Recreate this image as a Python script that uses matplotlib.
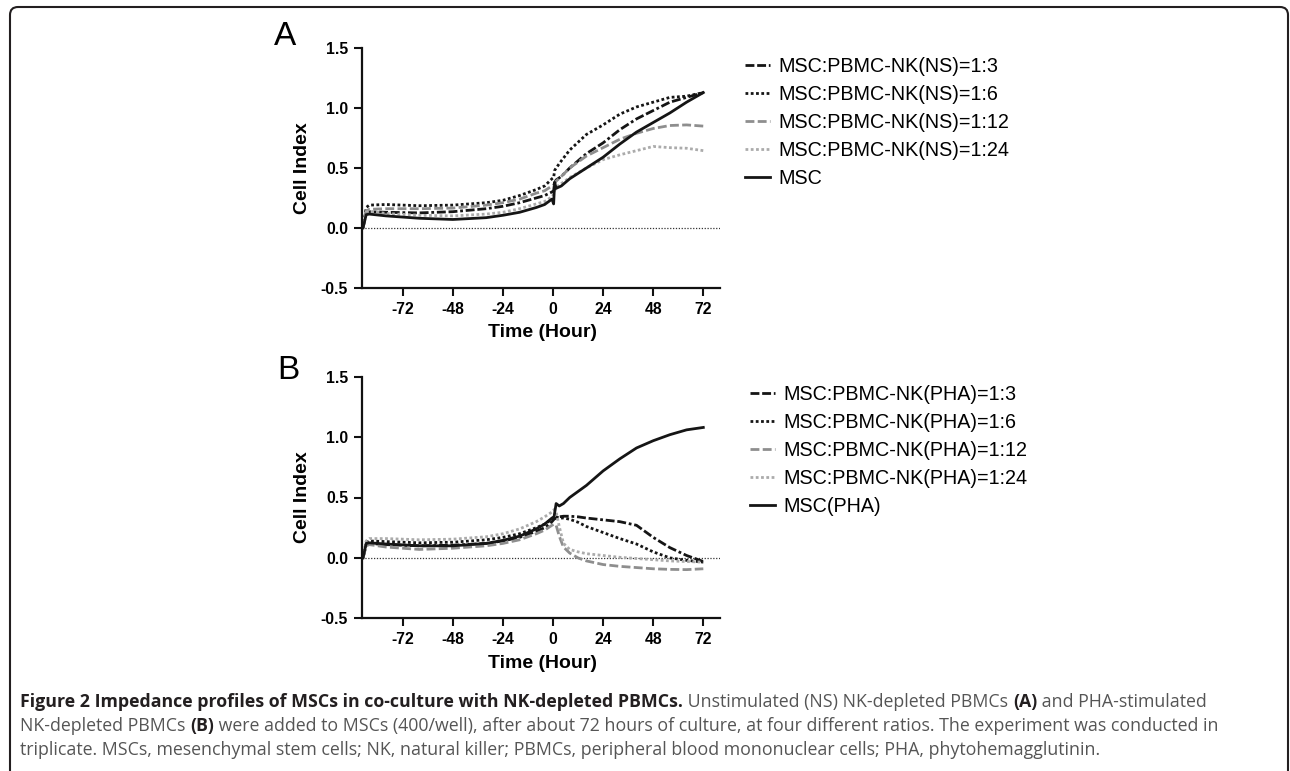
import matplotlib

matplotlib.use("Agg")
import matplotlib.pyplot as plt
from matplotlib.patches import FancyBboxPatch

plt.rcParams["font.family"] = ["Liberation Sans", "DejaVu Sans"]

# --- panel A: unstimulated (NS) co-cultures ---
time_a = [-91, -89.5, -88, -80, -64, -48, -32, -24, -16, -8, -4, -0.5,
          0.3, 0.8, 1.5, 4, 8, 16, 24, 32, 40, 48, 56, 64, 72]
ns_1_3 = [0.0, 0.13, 0.135, 0.13, 0.125, 0.135, 0.16, 0.18, 0.21, 0.25, 0.27, 0.30,
          0.31, 0.38, 0.40, 0.43, 0.50, 0.62, 0.71, 0.82, 0.91, 0.98, 1.05, 1.09, 1.13]
ns_1_6 = [0.0, 0.17, 0.19, 0.195, 0.185, 0.19, 0.21, 0.23, 0.27, 0.32, 0.35, 0.41,
          0.42, 0.48, 0.50, 0.56, 0.65, 0.78, 0.86, 0.95, 1.01, 1.05, 1.09, 1.10, 1.13]
ns_1_12 = [0.0, 0.14, 0.155, 0.16, 0.16, 0.165, 0.19, 0.21, 0.24, 0.29, 0.31, 0.35,
           0.36, 0.37, 0.39, 0.43, 0.50, 0.60, 0.67, 0.74, 0.79, 0.83, 0.855, 0.86, 0.85]
ns_1_24 = [0.0, 0.13, 0.14, 0.12, 0.105, 0.10, 0.115, 0.13, 0.16, 0.20, 0.22, 0.26,
           0.28, 0.31, 0.34, 0.37, 0.42, 0.50, 0.57, 0.61, 0.645, 0.68, 0.67, 0.665, 0.645]
msc_a = [0.0, 0.11, 0.115, 0.10, 0.08, 0.07, 0.085, 0.105, 0.13, 0.17, 0.195, 0.24,
         0.20, 0.38, 0.33, 0.35, 0.41, 0.50, 0.59, 0.70, 0.80, 0.88, 0.96, 1.05, 1.13]

# --- panel B: PHA-stimulated co-cultures ---
time_b = [-91, -89.5, -88, -80, -64, -48, -32, -24, -16, -8, -4, -0.5,
          0.5, 1.5, 3, 5, 8, 12, 16, 24, 32, 40, 48, 56, 64, 72]
pha_1_3 = [0.0, 0.11, 0.12, 0.11, 0.10, 0.105, 0.12, 0.14, 0.17, 0.22, 0.25, 0.30,
           0.32, 0.33, 0.34, 0.345, 0.345, 0.34, 0.33, 0.315, 0.30, 0.27, 0.17, 0.085, 0.02, -0.03]
pha_1_6 = [0.0, 0.13, 0.14, 0.135, 0.125, 0.13, 0.15, 0.17, 0.20, 0.25, 0.28, 0.32,
           0.34, 0.34, 0.33, 0.33, 0.32, 0.295, 0.26, 0.21, 0.16, 0.115, 0.05, 0.0, -0.02, -0.035]
pha_1_12 = [0.0, 0.10, 0.11, 0.09, 0.07, 0.08, 0.10, 0.12, 0.15, 0.20, 0.23, 0.27,
            0.28, 0.27, 0.18, 0.09, 0.04, 0.0, -0.025, -0.055, -0.07, -0.08, -0.09, -0.095, -0.097, -0.09]
pha_1_24 = [0.0, 0.14, 0.16, 0.16, 0.15, 0.155, 0.175, 0.20, 0.24, 0.30, 0.34, 0.38,
            0.40, 0.38, 0.26, 0.12, 0.07, 0.05, 0.035, 0.02, 0.005, -0.005, -0.015, -0.025, -0.03, -0.035]
msc_b = [0.0, 0.12, 0.125, 0.115, 0.10, 0.10, 0.12, 0.145, 0.18, 0.24, 0.28, 0.33,
         0.34, 0.45, 0.43, 0.45, 0.50, 0.55, 0.60, 0.72, 0.82, 0.91, 0.97, 1.02, 1.06, 1.08]

labels_a = ["MSC:PBMC-NK(NS)=1:3", "MSC:PBMC-NK(NS)=1:6", "MSC:PBMC-NK(NS)=1:12",
            "MSC:PBMC-NK(NS)=1:24", "MSC"]
labels_b = ["MSC:PBMC-NK(PHA)=1:3", "MSC:PBMC-NK(PHA)=1:6", "MSC:PBMC-NK(PHA)=1:12",
            "MSC:PBMC-NK(PHA)=1:24", "MSC(PHA)"]
x_ticks = [-72, -48, -24, 0, 24, 48, 72]
y_ticks = [-0.5, 0.0, 0.5, 1.0, 1.5]

# colour / dash pattern per series (same order as labels)
styles = [
    dict(color="#151515", dashes=(3.2, 1.0, 3.2, 1.0, 1.0, 1.0)),
    dict(color="#151515", dashes=(1.0, 0.9)),
    dict(color="#8e8e8e", dashes=(3.2, 1.2)),
    dict(color="#ababab", dashes=(1.0, 0.9)),
    dict(color="#151515", ls="-"),
]


def draw_panel(ax, t, series, labels, legend_xy):
    for y, lab, st in zip(series, labels, styles):
        ax.plot(t, y, lw=2.0, label=lab, solid_joinstyle="round", **st)
    ax.axhline(0, color="#333333", lw=0.9, ls=(0, (1, 1.3)), zorder=0)
    ax.set_xlim(-91.5, 80)
    ax.set_ylim(-0.5, 1.5)
    ax.set_xticks(x_ticks)
    ax.set_xticklabels([str(v) for v in x_ticks])
    ax.set_yticks(y_ticks)
    ax.set_yticklabels([f"{v:.1f}" for v in y_ticks])
    for side in ("top", "right"):
        ax.spines[side].set_visible(False)
    for side in ("left", "bottom"):
        ax.spines[side].set_linewidth(1.6)
        ax.spines[side].set_color("#111111")
    ax.tick_params(length=6, width=1.5, color="#111111", pad=4)
    for lbl in ax.get_xticklabels() + ax.get_yticklabels():
        lbl.set_fontsize(11.3)
        lbl.set_fontweight("bold")
    ax.set_ylabel("Cell Index", fontsize=14, fontweight="bold")
    ax.yaxis.set_label_coords(-0.143, 0.5)
    ax.set_xlabel("Time (Hour)", fontsize=14, fontweight="bold")
    ax.xaxis.set_label_coords(0.505, -0.153)
    ax.legend(loc="upper left", bbox_to_anchor=legend_xy, bbox_transform=ax.figure.transFigure,
              frameon=False, fontsize=14.2, handlelength=1.27, handletextpad=0.42,
              labelspacing=0.45, borderpad=0, borderaxespad=0)


fig = plt.figure(figsize=(12.9, 7.71), dpi=100)
ax_a = fig.add_axes([362 / 1290, 1 - 287.7 / 771, 358 / 1290, 239.4 / 771])
ax_b = fig.add_axes([362 / 1290, 1 - 618.3 / 771, 358 / 1290, 241.6 / 771])

draw_panel(ax_a, time_a, [ns_1_3, ns_1_6, ns_1_12, ns_1_24, msc_a], labels_a,
           (745 / 1290, 1 - 57 / 771))
draw_panel(ax_b, time_b, [pha_1_3, pha_1_6, pha_1_12, pha_1_24, msc_b], labels_b,
           (750 / 1290, 1 - 385 / 771))

fig.text(285.5 / 1290, 1 - 36.5 / 771, "A", fontsize=24, ha="center", va="center")
fig.text(288 / 1290, 1 - 370 / 771, "B", fontsize=24, ha="center", va="center")

# outer rounded frame (open at the bottom, as in the page crop)
frame = FancyBboxPatch((0.10, -0.5), 12.78, 8.14, boxstyle="round,pad=0,rounding_size=0.08",
                       transform=fig.dpi_scale_trans, fill=False, lw=1.5,
                       edgecolor="#231f20", clip_on=False)
fig.add_artist(frame)

# caption, mixed bold / regular runs per line
cap_dark = "#231f20"
cap_grey = "#555555"
cap_font = ["Open Sans", "DejaVu Sans"]
cap_size = 12.8
caption = [
    [("Figure 2 Impedance profiles of MSCs in co-culture with NK-depleted PBMCs.", True),
     (" Unstimulated (NS) NK-depleted PBMCs ", False), ("(A)", True),
     (" and PHA-stimulated", False)],
    [("NK-depleted PBMCs ", False), ("(B)", True),
     (" were added to MSCs (400/well), after about 72 hours of culture, at four different "
      "ratios. The experiment was conducted in", False)],
    [("triplicate. MSCs, mesenchymal stem cells; NK, natural killer; PBMCs, peripheral blood "
      "mononuclear cells; PHA, phytohemagglutinin.", False)],
]
baselines = [706.7, 730.7, 755.0]
for runs, base in zip(caption, baselines):
    prev = None
    for text, bold in runs:
        kw = dict(fontsize=cap_size, family=cap_font,
                  fontweight="bold" if bold else "normal",
                  color=cap_dark if bold else cap_grey, ha="left")
        if prev is None:
            prev = fig.text(20.5 / 1290, 1 - base / 771, text, va="baseline", **kw)
        else:
            # continue the line right after the previous run
            prev = ax_b.annotate(text, xy=(1, 0), xycoords=prev, va="bottom",
                                 annotation_clip=False, **kw)

fig.savefig("out.png", dpi=100, facecolor="white")
